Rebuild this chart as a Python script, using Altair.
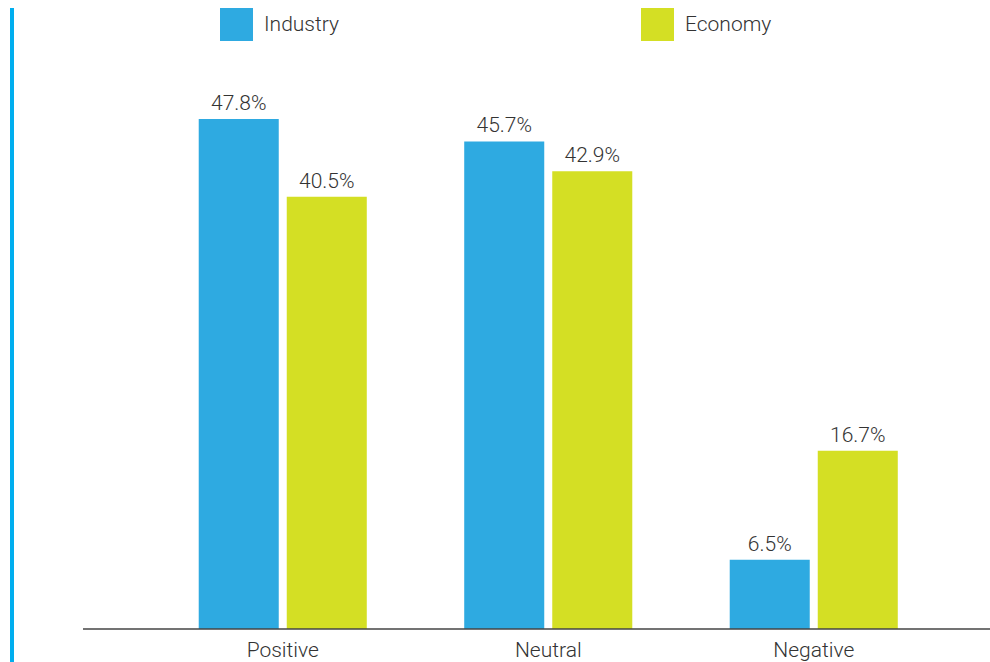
import altair as alt
import pandas as pd

categories = ["Positive", "Neutral", "Negative"]
series = ["Industry", "Economy"]
industry = [47.8, 45.7, 6.5]
economy = [40.5, 42.9, 16.7]

rows = []
for c, a, b in zip(categories, industry, economy):
    rows.append({"cat": c, "series": "Industry", "value": a, "label": f"{a}%"})
    rows.append({"cat": c, "series": "Economy", "value": b, "label": f"{b}%"})
df = pd.DataFrame(rows)

FONT = "Roboto"
W, H = 796.5, 533.5

x = alt.X("cat:N", sort=categories, title=None,
          scale=alt.Scale(paddingInner=0.367, paddingOuter=0.1835),
          axis=alt.Axis(domain=False, ticks=False, labelAngle=0, labelFontSize=21,
                        labelFontWeight=300,
                        labelColor="#333333", labelFont=FONT, labelPadding=10))
xo = alt.XOffset("series:N", sort=series,
                 scale=alt.Scale(paddingInner=0.0909, paddingOuter=0))
y = alt.Y("value:Q", scale=alt.Scale(domain=[0, 50]), axis=None)
color = alt.Color("series:N", sort=series,
                  scale=alt.Scale(domain=series, range=["#2EAAE1", "#D4DF24"]),
                  legend=alt.Legend(title=None, orient="none", direction="horizontal",
                                    legendX=70, legendY=-87.5, symbolType="square",
                                    symbolSize=1089, symbolStrokeWidth=0,
                                    labelFontSize=21, labelFont=FONT, labelFontWeight=300,
                                    labelColor="#333333",
                                    labelOffset=11, columnPadding=302, padding=0))

base = alt.Chart(df)
bars = base.mark_bar().encode(x=x, xOffset=xo, y=y, color=color)
labels = base.mark_text(baseline="bottom", dy=-5, fontSize=21, font=FONT, fontWeight=300,
                        color="#333333").encode(x=x, xOffset=xo, y=y, text="label:N")

axis_line = alt.Chart(pd.DataFrame({"a": [0]})).mark_rule(
    color="#444444", strokeWidth=1.3, clip=False).encode(
    x=alt.value(-67), x2=alt.value(840), y=alt.value(H))
left_line = alt.Chart(pd.DataFrame({"a": [0]})).mark_rule(
    color="#00AEEF", strokeWidth=4, clip=False).encode(
    x=alt.value(-138), y=alt.value(-87.5), y2=alt.value(566.5))

chart = alt.layer(bars, labels, axis_line, left_line).properties(
    width=W, height=H,
    background="white",
    autosize=alt.AutoSizeParams(type="none"),
    padding={"left": 150, "top": 95.5, "right": 43.5, "bottom": 33},
).configure_view(stroke=None)

chart.save("out.html", embed_options={"renderer": "svg", "actions": False})
